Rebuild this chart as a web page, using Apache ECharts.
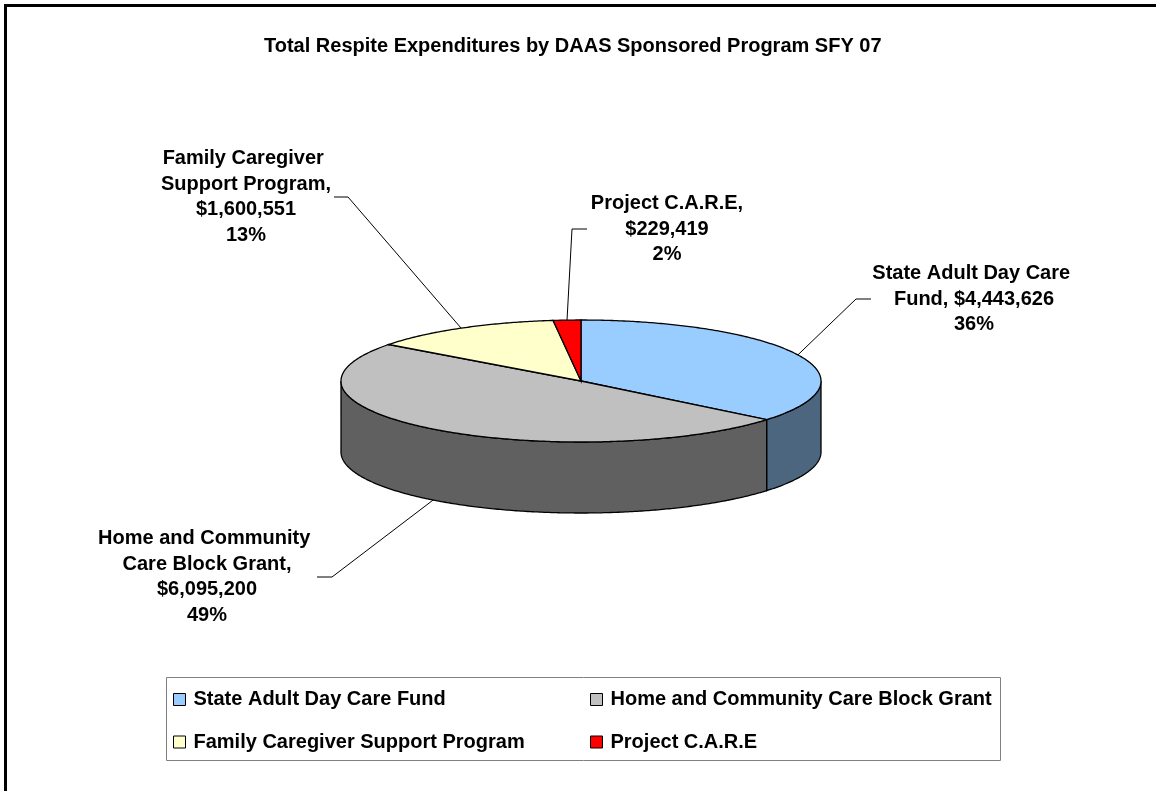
<!DOCTYPE html>
<html>
<head>
<meta charset="utf-8">
<title>Total Respite Expenditures by DAAS Sponsored Program SFY 07</title>
<script src="https://cdn.jsdelivr.net/npm/echarts@6/dist/echarts.min.js"></script>
<style>
  html, body { margin: 0; padding: 0; background: #fff; }
  #chart { width: 1156px; height: 791px; }
</style>
</head>
<body>
<div id="chart"></div>
<script>
// data, clockwise from 12 o'clock
const programs = ['State Adult Day Care Fund', 'Home and Community Care Block Grant', 'Family Caregiver Support Program', 'Project C.A.R.E'];
const expenditures = [4443626, 6095200, 1600551, 229419];

const topColors = ['#99CCFF', '#C0C0C0', '#FFFFCC', '#FF0000'];
const sideColors = ['#4D6680', '#606060', '#808066', '#800000'];

const FONT = '"Liberation Sans", Arial, sans-serif';

// 3d pie geometry (top face ellipse + wall depth)
const pie = { cx: 581, cy: 381, rx: 240, ry: 61, depth: 71 };

// label boxes and leader elbows, same order as programs
// join: what goes between "name," and the amount
const labelLayout = [
  { x: 974, y: 261, width: 215, join: ' ', elbow: [856, 299], end: [871, 299] },
  { x: 207, y: 526, width: 222, join: '\n', elbow: [332, 577], end: [317, 577] },
  { x: 246, y: 146, width: 182, join: '\n', elbow: [348, 197], end: [334, 197] },
  { x: 667, y: 191, width: 170, join: '\n', elbow: [572, 229], end: [587, 229] }
];

const total = expenditures.reduce((a, b) => a + b, 0);

function pt(a, dy) {
  return [pie.cx + pie.rx * Math.sin(a), pie.cy - pie.ry * Math.cos(a) + dy];
}

function arc(from, to, dy) {
  const n = Math.max(2, Math.ceil(Math.abs(to - from) / 0.01));
  const out = [];
  for (let s = 0; s <= n; s++) out.push(pt(from + (to - from) * s / n, dy));
  return out;
}

function renderSlice(params, api) {
  const i = params.seriesIndex;
  let before = 0;
  for (let k = 0; k < i; k++) before += expenditures[k];
  const value = api.value(0);
  const a1 = before / total * Math.PI * 2;
  const a2 = (before + value) / total * Math.PI * 2;
  const children = [];

  // front wall, only the part facing the viewer
  const w1 = Math.max(a1, Math.PI / 2);
  const w2 = Math.min(a2, Math.PI * 1.5);
  if (w2 > w1) {
    children.push({
      type: 'polygon', z2: 1,
      shape: { points: arc(w1, w2, 0).concat(arc(w2, w1, pie.depth)) },
      style: { fill: sideColors[i], stroke: '#000', lineWidth: 1.3 }
    });
  }

  // top face
  children.push({
    type: 'polygon', z2: 5,
    shape: { points: [[pie.cx, pie.cy]].concat(arc(a1, a2, 0)) },
    style: { fill: topColors[i], stroke: '#000', lineWidth: 1.3 }
  });

  // leader line
  const mid = (a1 + a2) / 2;
  const L = labelLayout[i];
  const anchor = pt(mid, Math.cos(mid) < 0 ? pie.depth : 0);
  children.push({
    type: 'polyline', z2: 6,
    shape: { points: [anchor, L.elbow, L.end] },
    style: { stroke: '#000', lineWidth: 1, fill: null }
  });

  const pct = Math.round(value / total * 100);
  children.push({
    type: 'text', z2: 10,
    x: L.x, y: L.y,
    style: {
      text: programs[i] + ',' + L.join + '$' + value.toLocaleString('en-US') + '\n' + pct + '%',
      width: L.width,
      overflow: 'break',
      align: 'center',
      verticalAlign: 'top',
      fontSize: 20,
      fontWeight: 'bold',
      fontFamily: FONT,
      lineHeight: 25.5,
      fill: '#000'
    }
  });

  return { type: 'group', children: children };
}

const legendBase = {
  orient: 'vertical',
  top: 689.5,
  padding: 0,
  itemGap: 22.5,
  itemWidth: 12,
  itemHeight: 12,
  icon: 'rect',
  selectedMode: false,
  itemStyle: { borderColor: '#000', borderWidth: 1 },
  textStyle: { fontSize: 20, fontWeight: 'bold', fontFamily: FONT, color: '#000', lineHeight: 20, padding: [0, 0, 0, 3] }
};

const chart = echarts.init(document.getElementById('chart'));
chart.setOption({
  animation: false,
  backgroundColor: '#fff',
  title: {
    text: 'Total Respite Expenditures by DAAS Sponsored Program SFY 07',
    left: 264,
    top: 36,
    padding: 0,
    textStyle: { fontSize: 20, fontWeight: 'bold', fontFamily: FONT, color: '#000' }
  },
  legend: [
    Object.assign({}, legendBase, { left: 173, data: [programs[0], programs[2]] }),
    Object.assign({}, legendBase, { left: 590, data: [programs[1], programs[3]] })
  ],
  graphic: [
    {
      type: 'rect', silent: true,
      shape: { x: 5.5, y: 5.5, width: 1300, height: 1000 },
      style: { fill: 'none', stroke: '#000', lineWidth: 3 }
    },
    {
      type: 'rect', silent: true,
      shape: { x: 166.5, y: 677.5, width: 834, height: 83 },
      style: { fill: 'none', stroke: '#808080', lineWidth: 1 }
    }
  ],
  series: programs.map((name, i) => ({
    type: 'custom',
    name: name,
    coordinateSystem: 'none',
    silent: true,
    itemStyle: { color: topColors[i] },
    data: [expenditures[i]],
    renderItem: renderSlice
  }))
});
</script>
</body>
</html>
